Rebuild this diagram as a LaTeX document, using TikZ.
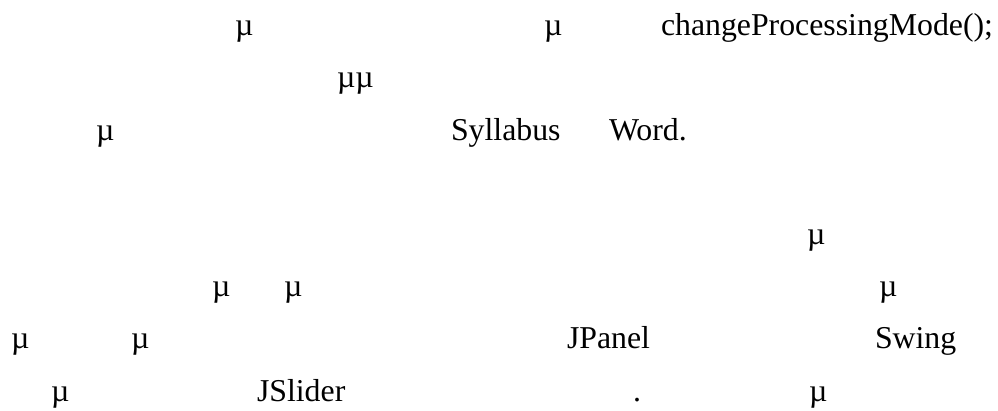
\documentclass[tikz,border=0pt]{standalone}
\usepackage{fontspec}
\setmainfont{Liberation Serif}
\begin{document}
\begin{tikzpicture}[x=1pt,y=-1pt,
  txt/.style={anchor=base west,inner sep=0pt,outer sep=0pt,font=\fontsize{31.8pt}{38pt}\selectfont}]
\useasboundingbox (0,0) rectangle (998,410);
% line 1
\node[txt] (m1a) at (235,35) {µ};
\node[txt] (m1b) at (544,35) {µ};
\node[txt] (cpm) at (661,35) {changeProcessingMode();};
% line 2
\node[txt] (m2) at (337,87.5) {µµ};
% line 3
\node[txt] (m3) at (96,140) {µ};
\node[txt] (syl) at (451,140) {Syllabus};
\node[txt] (word) at (609,140) {Word.};
% line 4
\node[txt] (m4) at (807,244) {µ};
% line 5
\node[txt] (m5a) at (212,296) {µ};
\node[txt] (m5b) at (284,296) {µ};
\node[txt] (m5c) at (879,296) {µ};
% line 6
\node[txt] (m6a) at (11,348) {µ};
\node[txt] (m6b) at (131,348) {µ};
\node[txt] (jp) at (567,348) {JPanel};
\node[txt] (sw) at (875,348) {Swing};
% line 7
\node[txt] (m7a) at (51,401) {µ};
\node[txt] (js) at (257,401) {JSlider};
\node[txt] (dot) at (633,401) {.};
\node[txt] (m7b) at (809,401) {µ};
\end{tikzpicture}
\end{document}
